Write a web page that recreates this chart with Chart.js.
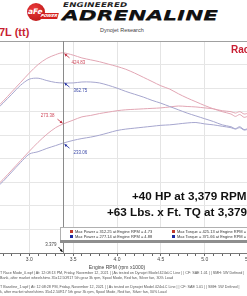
<!DOCTYPE html>
<html>
<head>
<meta charset="utf-8">
<script src="https://cdn.jsdelivr.net/npm/chart.js@4.4.1/dist/chart.umd.min.js"></script>
<style>
  html, body { margin: 0; padding: 0; }
  body { width: 247px; height: 296px; overflow: hidden; position: relative; background: #fff; font-family: "Liberation Sans", Arial, sans-serif; }
  .abs { position: absolute; white-space: nowrap; }
  #chartBox { position: absolute; left: -19px; top: 41px; width: 272px; height: 230px; }
  .logo { left: 27px; top: 3px; width: 18px; height: 18px; border-radius: 50%; background: radial-gradient(circle at 40% 35%, #ee3b3b, #b01010); }
  .logoTxt { left: 28px; top: 7px; color: #fff; font: italic bold 7.5px "DejaVu Sans"; }
  .power { left: 40px; top: 13px; width: 18px; height: 6px; background: #d42020; transform: skewX(-15deg); color: #fff; font: italic bold 4px "DejaVu Sans"; line-height: 6px; text-align: center; }
  .eng { left: 63px; top: 1px; font: italic bold 6.5px "DejaVu Sans"; color: #222; transform: scaleX(1.32); transform-origin: left top; letter-spacing: 0.2px; }
  .adr { left: 62px; top: 7px; font: italic bold 14px "DejaVu Sans"; color: #111; transform: scaleX(1.55); transform-origin: left top; text-shadow: 0 1px 0 #888; }
  .dyno { left: 100px; top: 27px; font-size: 5.5px; color: #444; }
  .title { left: -1px; top: 26px; font-weight: bold; font-size: 11px; color: #c81e32; }
  .rac { left: 231px; top: 44px; font-weight: bold; font-size: 10px; color: #c81e32; }
  .big { font-weight: bold; font-size: 11.7px; color: #111; }
  .legend { left: 60px; top: 227px; width: 200px; height: 12px; border: 1px solid #b0b0b0; background: #fff; }
  .legbar { left: 60px; top: 240px; width: 200px; height: 3px; background: #8e8e8e; }
  .sq { position: absolute; width: 3px; height: 3px; }
  .lt { position: absolute; font-size: 4px; color: #333; white-space: nowrap; }
  .foot { left: 0px; font-size: 3.7px; color: #555; }
</style>
</head>
<body>
<div class="abs logo"></div>
<div class="abs logoTxt">aFe</div>
<div class="abs power">POWER</div>
<div class="abs eng">ENGINEERED</div>
<div class="abs adr">ADRENALINE</div>
<div class="abs dyno">Dynojet Research</div>
<div class="abs title">7L (tt)</div>

<div id="chartBox"><canvas id="myChart" width="272" height="230"></canvas></div>

<div class="abs rac">Rac</div>
<div class="abs big" style="left:132px; top:189px;">+40 HP at 3,379 RPM</div>
<div class="abs big" style="left:107px; top:205px;">+63 Lbs. x Ft. TQ at 3,379</div>

<div class="abs legend">
  <div class="sq" style="left:9px; top:2px; background:#c0392b;"></div>
  <div class="lt" style="left:14px; top:1px;">Max Power = 312.25 at Engine RPM = 4.73</div>
  <div class="sq" style="left:111px; top:2px; background:#c0392b;"></div>
  <div class="lt" style="left:116px; top:1px;">Max Torque = 425.13 at Engine RPM = 3.38</div>
  <div class="sq" style="left:9px; top:7px; background:#1c2aa0;"></div>
  <div class="lt" style="left:14px; top:6px;">Max Power = 277.14 at Engine RPM = 4.88</div>
  <div class="sq" style="left:111px; top:7px; background:#1c2aa0;"></div>
  <div class="lt" style="left:116px; top:6px;">Max Torque = 371.66 at Engine RPM = 3.05</div>
</div>
<div class="abs legbar"></div>

<div class="abs foot" style="top:271px;">T Race Mode_0.wpf | At: 12:08:13 PM, Friday, November 12, 2021 | | As tested on Dynojet Model 424xLC Line | | CF: SAE 1.01 | | SMH: 5W Defined |</div>
<div class="abs foot" style="top:276px;">Bank, after market wheelshims 35x12.50R17 5th gear 3k rpm, Spool Mode, Red fan, Silver fan, 30% Load</div>
<div class="abs foot" style="top:285px;">T Baseline_1.wpf | At: 12:08:28 PM, Friday, November 12, 2021 | | As tested on Dynojet Model 424xLC Line | | CF: SAE 1.01 | | SMH: 5W Defined |</div>
<div class="abs foot" style="top:290px;">k, after market wheelshims 35x12.50R17 5th gear 3k rpm, Spool Mode, Red fan, Silver fan, 30% Load</div>

<script>
// engine rpm (x1000)
var rpm = [2.65, 2.7, 2.8, 2.9, 3.0, 3.1, 3.2, 3.3, 3.38, 3.5, 3.6, 3.7, 3.8, 3.9, 4.0, 4.1, 4.2, 4.3, 4.4, 4.5,
  4.6, 4.7, 4.8, 4.9, 5.0, 5.1, 5.2, 5.3, 5.35, 5.4, 5.45, 5.5];

// race mode (red) / baseline (blue)
var torqueRace = [313, 322, 342, 362, 382, 400, 413, 421, 425, 420, 414, 410, 406, 401, 396, 390, 382, 373, 364, 355,
  348, 338, 329, 321, 313, 306, 300, 295, 290, 294, 288, 291];
var torqueBase = [309, 318, 337, 356, 369, 371, 366, 362, 361, 361, 363, 363, 361, 356, 350, 343, 337, 331, 324, 318,
  311, 304, 297, 291, 285, 279, 272, 268, 264, 268, 262, 265];
var powerRace = [147, 156, 176, 196, 216, 235, 252, 266, 273.4, 282, 289, 292, 296, 299, 302, 304, 305, 306, 307, 308,
  310, 312, 311, 310, 308, 306, 302, 300, 297, 300, 295, 297];
var powerBase = [143, 152, 172, 192, 210, 215, 222, 228, 233, 239, 243, 246, 250, 255, 260, 263, 265, 267, 269, 271,
  272, 274, 276, 277, 274, 272, 269, 266, 263, 266, 261, 263];

// cursor
var cursorRpm = 3.379;
var cursorVals = [424.83, 362.75, 273.38, 233.06];
var cursorLabels = ['424.83', '362.75', '273.38', '233.06'];

var redLine = '#e2a6b4';
var blueLine = '#a6a6ce';

function pts(vals) {
  return vals.map(function (v, i) { return { x: rpm[i], y: v }; });
}

function arrow(ctx, x1, y1, x2, y2, col) {
  ctx.strokeStyle = col;
  ctx.fillStyle = col;
  ctx.lineWidth = 0.8;
  ctx.beginPath(); ctx.moveTo(x1, y1); ctx.lineTo(x2, y2); ctx.stroke();
  var a = Math.atan2(y2 - y1, x2 - x1);
  ctx.beginPath();
  ctx.moveTo(x2, y2);
  ctx.lineTo(x2 - 3 * Math.cos(a - 0.5), y2 - 3 * Math.sin(a - 0.5));
  ctx.lineTo(x2 - 3 * Math.cos(a + 0.5), y2 - 3 * Math.sin(a + 0.5));
  ctx.closePath(); ctx.fill();
}

var cursorPlugin = {
  id: 'cursor',
  afterDatasetsDraw: function (chart) {
    var ctx = chart.ctx, ca = chart.chartArea;
    var x = chart.scales.x, y = chart.scales.y;
    var cx = Math.round(x.getPixelForValue(cursorRpm)) + 0.5;
    ctx.save();
    ctx.strokeStyle = '#8a8a8a';
    ctx.lineWidth = 1;
    ctx.beginPath(); ctx.moveTo(cx, ca.top); ctx.lineTo(cx, ca.bottom); ctx.stroke();

    ctx.font = '4.5px "Liberation Sans"';
    ctx.textBaseline = 'middle';
    // label offsets per marker
    var cols = ['#cf4a5c', '#3c4aa8', '#cf4a5c', '#3c4aa8'];
    var arrowCols = ['#c0283c', '#1c2aa0', '#c0283c', '#1c2aa0'];
    var lx = [8, 10, -9, 10], ly = [10, 9, -8, 10];
    cursorVals.forEach(function (v, i) {
      var py = y.getPixelForValue(v);
      ctx.fillStyle = cols[i];
      ctx.textAlign = lx[i] < 0 ? 'right' : 'left';
      ctx.fillText(cursorLabels[i], cx + lx[i], py + ly[i]);
      var sx = lx[i] < 0 ? -6 : 6, sy = ly[i] < 0 ? -5 : 5;
      arrow(ctx, cx + sx, py + sy, cx + (sx < 0 ? -1 : 1), py + (sy < 0 ? -1 : 1), arrowCols[i]);
    });
    // rpm label at the axis
    ctx.fillStyle = '#444';
    ctx.textAlign = 'right';
    ctx.fillText(cursorRpm.toFixed(3), cx - 7, ca.bottom - 8);
    arrow(ctx, cx - 5, ca.bottom - 6, cx - 1, ca.bottom - 1, '#111');
    ctx.restore();
  }
};

var ctx = document.getElementById('myChart');
var myChart = new Chart(ctx, {
  type: 'line',
  data: {
    datasets: [
      { label: 'Torque race', data: pts(torqueRace), borderColor: redLine, borderWidth: 1, pointRadius: 0, tension: 0.3 },
      { label: 'Torque base', data: pts(torqueBase), borderColor: blueLine, borderWidth: 1, pointRadius: 0, tension: 0.3 },
      { label: 'Power race', data: pts(powerRace), borderColor: redLine, borderWidth: 1, pointRadius: 0, tension: 0.3 },
      { label: 'Power base', data: pts(powerBase), borderColor: blueLine, borderWidth: 1, pointRadius: 0, tension: 0.3 }
    ]
  },
  options: {
    responsive: false,
    animation: false,
    devicePixelRatio: 1,
    layout: { padding: 0 },
    plugins: { legend: { display: false }, tooltip: { enabled: false } },
    scales: {
      x: {
        type: 'linear',
        min: 2.5,
        max: 5.5,
        ticks: {
          stepSize: 0.1,
          autoSkip: false,
          maxRotation: 0,
          padding: 1,
          color: '#444',
          font: { size: 5, family: 'Liberation Sans' },
          callback: function (v) {
            return Math.abs(v * 2 - Math.round(v * 2)) < 1e-6 ? v.toFixed(1) : '';
          }
        },
        grid: {
          color: function (c) {
            var v = c.tick ? c.tick.value : 0;
            return Math.abs(v * 2 - Math.round(v * 2)) < 1e-6 ? '#e4e4e4' : 'rgba(0,0,0,0)';
          },
          tickColor: '#666',
          tickLength: 3
        },
        border: { color: '#777' },
        title: { display: true, text: 'Engine RPM (rpm x1000)', color: '#444', font: { size: 5, family: 'Liberation Sans' }, padding: { top: 1, bottom: 0 } }
      },
      y: {
        min: 0,
        max: 450,
        ticks: { display: false, stepSize: 50 },
        grid: {
          drawTicks: false,
          color: function (c) {
            return c.tick && c.tick.value === 450 ? '#a0a0a0' : '#e6e6e6';
          }
        },
        border: { display: false }
      }
    }
  },
  plugins: [cursorPlugin]
});
</script>
</body>
</html>
